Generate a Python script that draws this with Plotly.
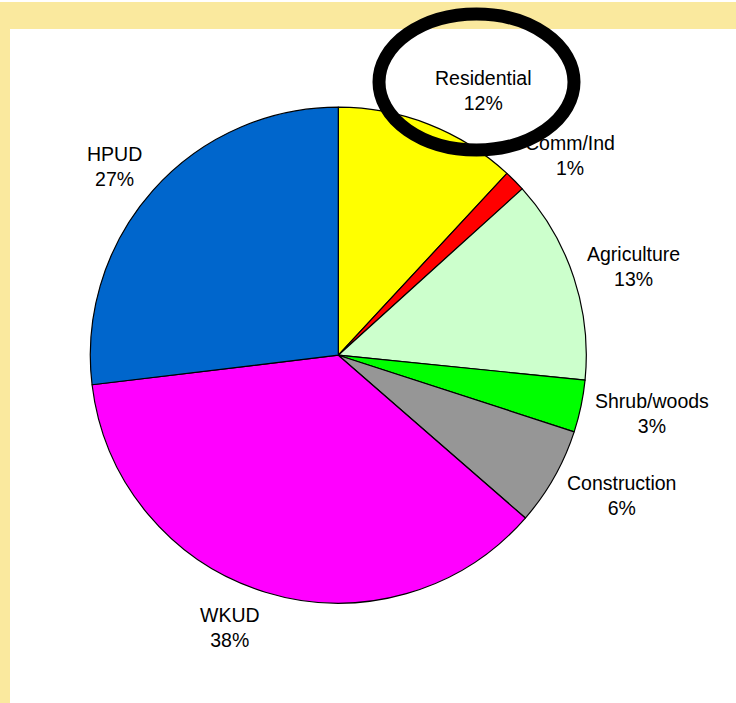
import math
import plotly.graph_objects as go

# Slices clockwise from 12 o'clock
sources = ['Residential', 'Comm/Ind', 'Agriculture', 'Shrub/woods',
           'Construction', 'WKUD', 'HPUD']
shares = [11.9, 1.4, 13.3, 3.4, 6.4, 36.7, 26.9]
pct_labels = ['12%', '1%', '13%', '3%', '6%', '38%', '27%']
colors = ['#FFFF00', '#FF0000', '#CCFFCC', '#00FF00',
          '#969696', '#FF00FF', '#0066CC']

W, H = 736, 703
band = '#FAE99E'
font_size = 19.5

# pie placement in pixels (centre and radius)
cx, cy, r = 338.3, 355.2, 248

fig = go.Figure(go.Pie(
    labels=sources,
    values=shares,
    textinfo='none',
    sort=False,
    direction='clockwise',
    rotation=0,
    marker=dict(colors=colors, line=dict(color='black', width=1.2)),
    domain=dict(x=[(cx - r) / W, (cx + r) / W],
                y=[(H - cy - r) / H, (H - cy + r) / H]),
    showlegend=False,
))

# Excel-style outside labels: box edge sits just outside the rim on the mid-angle ray
total = sum(shares)
annotations = []
acc = 0
for name, val, pct in zip(sources, shares, pct_labels):
    theta = 2 * math.pi * (acc + val / 2) / total
    acc += val
    px = cx + (r + 12) * math.sin(theta)
    py = cy - (r + 12) * math.cos(theta)
    annotations.append(dict(
        text=f'{name}<br>{pct}', x=px / W, y=1 - py / H,
        xref='paper', yref='paper', showarrow=False, align='center',
        xanchor='left' if math.sin(theta) > 0 else 'right', yanchor='middle',
        yshift=1.25 * font_size * math.cos(theta),
        font=dict(family='Liberation Sans, Arial, sans-serif',
                  size=font_size, color='black'),
    ))

# yellow frame on top and left, and the black ring round the Residential label
fig.update_layout(
    width=W, height=H,
    margin=dict(l=0, r=0, t=0, b=0),
    paper_bgcolor='white',
    plot_bgcolor='white',
    annotations=annotations,
    shapes=[
        dict(type='rect', xref='paper', yref='paper', layer='below',
             x0=0, x1=1, y0=1 - 29 / H, y1=1 - 2 / H,
             fillcolor=band, line=dict(width=0)),
        dict(type='rect', xref='paper', yref='paper', layer='below',
             x0=0, x1=10 / W, y0=0, y1=1 - 2 / H,
             fillcolor=band, line=dict(width=0)),
        dict(type='circle', xref='paper', yref='paper', layer='above',
             x0=379 / W, x1=574 / W, y0=1 - 150 / H, y1=1 - 14 / H,
             line=dict(color='black', width=13)),
    ],
)

fig.write_html('out.html', config={'displayModeBar': False},
               post_script="document.body.style.margin='0';")
